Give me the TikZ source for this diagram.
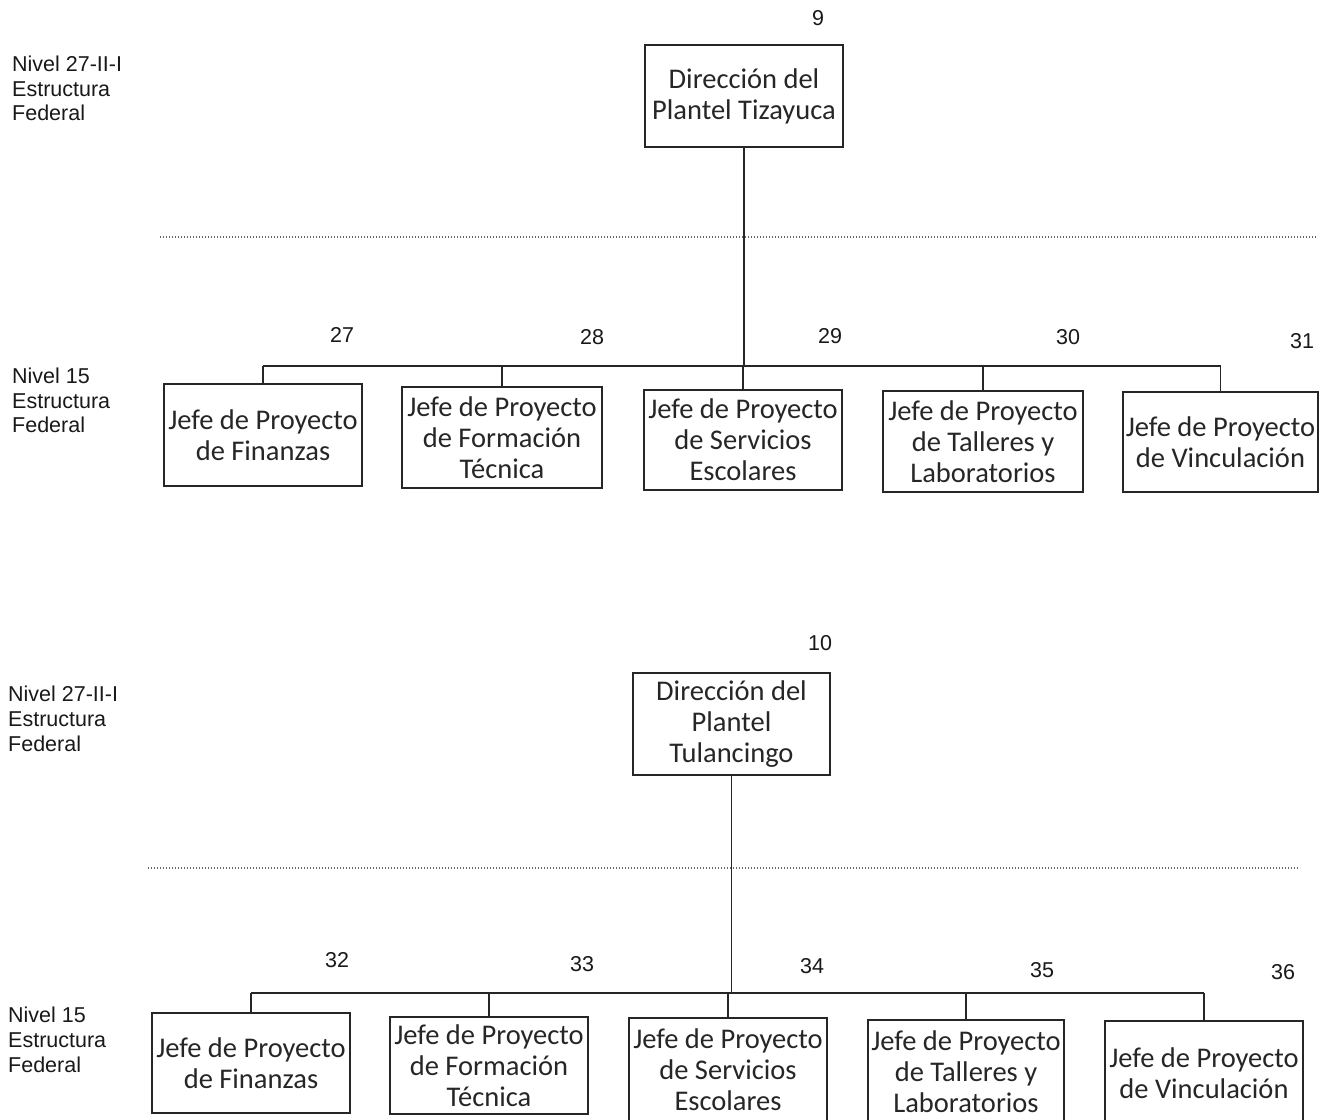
\documentclass[tikz,border=0pt]{standalone}
\usepackage{fontspec}
\setmainfont{Liberation Sans}
\newfontfamily\boxfont{Carlito}
\begin{document}
\begin{tikzpicture}[x=1pt,y=-1pt,
  orgbox/.style={draw=black!85, line width=1.4pt, inner sep=0pt, align=center,
    font=\boxfont\fontsize{28.5}{31}\selectfont, text=black!85},
  lbl/.style={anchor=base west, inner sep=0pt, font=\fontsize{21.5}{25}\selectfont, text=black!90},
  num/.style={anchor=base, inner sep=0pt, font=\fontsize{21.5}{25}\selectfont, text=black!90},
  conn/.style={draw=black!85, line width=1.4pt},
  busline/.style={draw=black!85, line width=1.8pt},
  sep/.style={draw=black!60, line width=1.2pt, dash pattern=on 1.4pt off 1.6pt}]
\useasboundingbox[fill=white] (0,0) rectangle (1333,1119);

% ---------- upper chart ----------
\node[lbl] (l1a) at (12,71) {Nivel 27-II-I};
\node[lbl] (l1b) at (12,96) {Estructura};
\node[lbl] (l1c) at (12,120) {Federal};
\node[lbl] (l2a) at (12,383) {Nivel 15};
\node[lbl] (l2b) at (12,408) {Estructura};
\node[lbl] (l2c) at (12,432) {Federal};

\node[num] (n9) at (818,25) {9};
\node[orgbox, minimum width=198pt, minimum height=102pt] (d9) at (744,96) {Dirección del\\Plantel Tizayuca};

\coordinate (s1l) at (160,237);
\coordinate (s1r) at (1316,237);
\draw[sep] (s1l) -- (s1r);

\node[num] (n27) at (342,342) {27};
\node[num] (n28) at (592,344) {28};
\node[num] (n29) at (830,343) {29};
\node[num] (n30) at (1068,344) {30};
\node[num] (n31) at (1302,348) {31};

\node[orgbox, minimum width=198pt, minimum height=102pt] (b27) at (263,435) {Jefe de Proyecto\\de Finanzas};
\node[orgbox, minimum width=200pt, minimum height=101pt] (b28) at (502,437.5) {Jefe de Proyecto\\de Formación\\Técnica};
\node[orgbox, minimum width=198pt, minimum height=100pt] (b29) at (743,440) {Jefe de Proyecto\\de Servicios\\Escolares};
\node[orgbox, minimum width=200pt, minimum height=101pt] (b30) at (983,441.5) {Jefe de Proyecto\\de Talleres y\\Laboratorios};
\node[orgbox, minimum width=195pt, minimum height=100pt] (b31) at (1220.5,442) {Jefe de Proyecto\\de Vinculación};

\coordinate (bus1) at (744,366);
\draw[busline] (b27.north |- bus1) -- (b31.north |- bus1);
\draw[conn] (d9.south) -- (d9.south |- bus1);
\foreach \b in {b27,b28,b29,b30,b31}
  \draw[conn] (\b.north) -- (\b.north |- bus1);

% ---------- lower chart ----------
\node[lbl] (l3a) at (8,701) {Nivel 27-II-I};
\node[lbl] (l3b) at (8,726) {Estructura};
\node[lbl] (l3c) at (8,751) {Federal};
\node[lbl] (l4a) at (8,1022) {Nivel 15};
\node[lbl] (l4b) at (8,1047) {Estructura};
\node[lbl] (l4c) at (8,1072) {Federal};

\node[num] (n10) at (820,650) {10};
\node[orgbox, minimum width=197pt, minimum height=102pt] (d10) at (731.5,724) {Dirección del\\Plantel\\Tulancingo};

\coordinate (s2l) at (148,868);
\coordinate (s2r) at (1300,868);
\draw[sep] (s2l) -- (s2r);

\node[num] (n32) at (337,967) {32};
\node[num] (n33) at (582,971) {33};
\node[num] (n34) at (812,973) {34};
\node[num] (n35) at (1042,977) {35};
\node[num] (n36) at (1283,979) {36};

\node[orgbox, minimum width=198pt, minimum height=100pt] (b32) at (251,1063) {Jefe de Proyecto\\de Finanzas};
\node[orgbox, minimum width=198pt, minimum height=97pt] (b33) at (489,1065.5) {Jefe de Proyecto\\de Formación\\Técnica};
\node[orgbox, minimum width=198pt, minimum height=104pt] (b34) at (728,1070) {Jefe de Proyecto\\de Servicios\\Escolares};
\node[orgbox, minimum width=196pt, minimum height=104pt] (b35) at (966,1072) {Jefe de Proyecto\\de Talleres y\\Laboratorios};
\node[orgbox, minimum width=198pt, minimum height=104pt] (b36) at (1204,1073) {Jefe de Proyecto\\de Vinculación};

\coordinate (bus2) at (731,993);
\draw[busline] (b32.north |- bus2) -- (b36.north |- bus2);
\draw[conn] (d10.south) -- (d10.south |- bus2);
\foreach \b in {b32,b33,b34,b35,b36}
  \draw[conn] (\b.north) -- (\b.north |- bus2);
\end{tikzpicture}
\end{document}
